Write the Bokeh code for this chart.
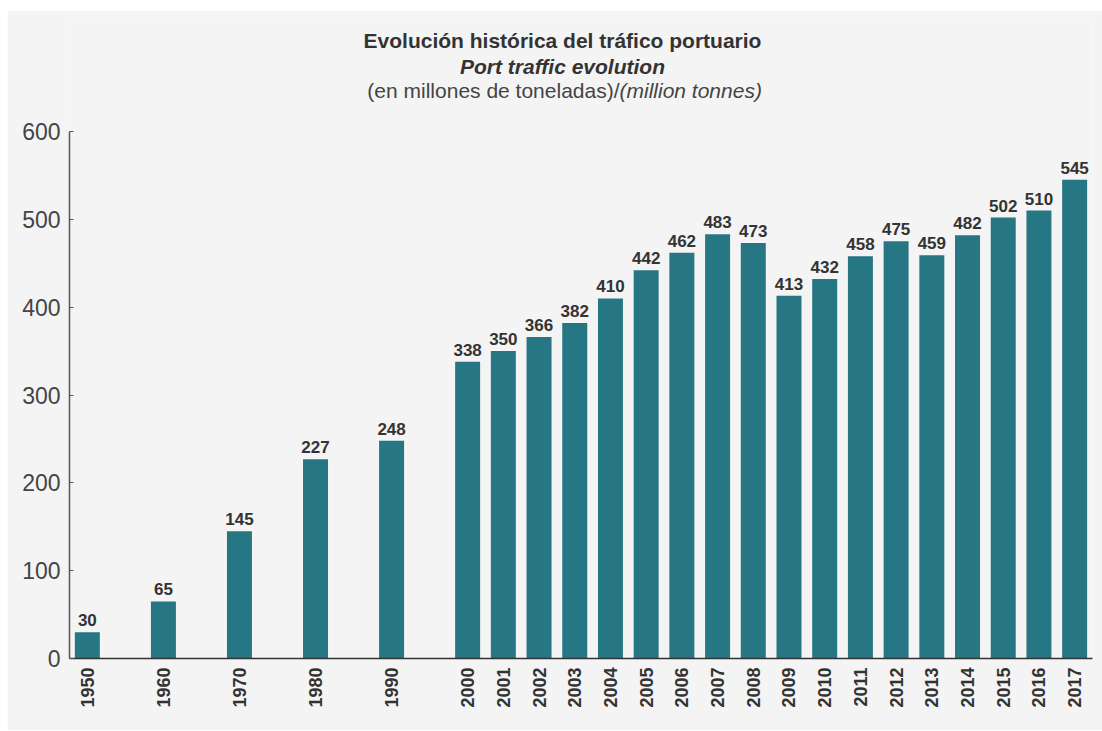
from bokeh.plotting import figure
from bokeh.models import ColumnDataSource, FactorRange, Range1d, Label
from bokeh.core.properties import value
from bokeh.embed import file_html
from bokeh.resources import INLINE
from math import pi

# ---- data ----
years = ["1950", "1960", "1970", "1980", "1990",
         "2000", "2001", "2002", "2003", "2004", "2005", "2006", "2007", "2008",
         "2009", "2010", "2011", "2012", "2013", "2014", "2015", "2016", "2017"]
traffic = [30, 65, 145, 227, 248,
           338, 350, 366, 382, 410, 442, 462, 483, 473,
           413, 432, 458, 475, 459, 482, 502, 510, 545]
groups = [" ", "  ", "   ", "    ", "     "] + ["      "] * 18
y_ticks = [0, 100, 200, 300, 400, 500, 600]

title_es = "Evolución histórica del tráfico portuario"
title_en = "Port traffic evolution"
unit_es = "(en millones de toneladas)/"
unit_en = "(million tonnes)"

FONT = "Liberation Sans"
BG = "#f4f4f4"
BAR = "#277684"

factors = list(zip(groups, years))
src = ColumnDataSource(data=dict(x=factors, v=traffic, lab=[str(t) for t in traffic]))

xr = FactorRange(*factors, group_padding=1.13, range_padding=0, range_padding_units="absolute")

# the frame extends above the axis top (600) so that the title lines sit inside it
p = figure(width=1095, height=720, x_range=xr, y_range=Range1d(0, 726.4),
           output_backend="svg", toolbar_location=None,
           min_border_left=62, min_border_right=10, min_border_top=10, min_border_bottom=72)
p.margin = (10, 0, 0, 7)

p.background_fill_color = BG
p.border_fill_color = BG
p.outline_line_color = None
p.grid.grid_line_color = None

p.vbar(x="x", top="v", width=0.7, source=src, fill_color=BAR, line_color=None)
p.text(x="x", y="v", text="lab", source=src, y_offset=-6,
       text_align="center", text_baseline="bottom",
       text_font=value(FONT), text_font_style="bold", text_font_size="17px",
       text_color="#333333")

# y axis
p.yaxis.ticker = y_ticks
p.yaxis.bounds = (0, 600)
p.yaxis.axis_line_color = "#555555"
p.yaxis.axis_line_width = 1.5
p.yaxis.major_tick_in = 4
p.yaxis.major_tick_out = 0
p.yaxis.major_tick_line_color = "#555555"
p.yaxis.minor_tick_line_color = None
p.yaxis.major_label_text_font = FONT
p.yaxis.major_label_text_font_size = "23px"
p.yaxis.major_label_text_color = "#444444"
p.yaxis.major_label_standoff = 9

# x axis
xa = p.xaxis[0]
xa.axis_line_color = "#333333"
xa.axis_line_width = 1.5
xa.major_tick_line_color = None
xa.major_tick_in = 0
xa.major_tick_out = 0
xa.major_label_orientation = pi / 2
xa.major_label_text_font = FONT
xa.major_label_text_font_style = "bold"
xa.major_label_text_font_size = "18px"
xa.major_label_text_color = "#333333"
xa.major_label_standoff = 9
xa.group_text_font_size = "1px"
xa.group_text_color = None
xa.separator_line_color = None

# titles (screen units relative to the plot frame)
common = dict(x_units="screen", y_units="screen", text_font=FONT, text_baseline="alphabetic")
p.add_layout(Label(x=493, y=618, text=title_es, text_align="center", text_font_style="bold",
                   text_font_size="21px", text_color="#333333", **common))
p.add_layout(Label(x=493, y=592, text=title_en, text_align="center", text_font_style="bold italic",
                   text_font_size="21px", text_color="#333333", **common))
p.add_layout(Label(x=550, y=568, text=unit_es, text_align="right",
                   text_font_size="21px", text_color="#444444", **common))
p.add_layout(Label(x=550, y=568, text=unit_en, text_align="left", text_font_style="italic",
                   text_font_size="21px", text_color="#444444", **common))

open("out.html", "w").write(file_html(p, INLINE))
